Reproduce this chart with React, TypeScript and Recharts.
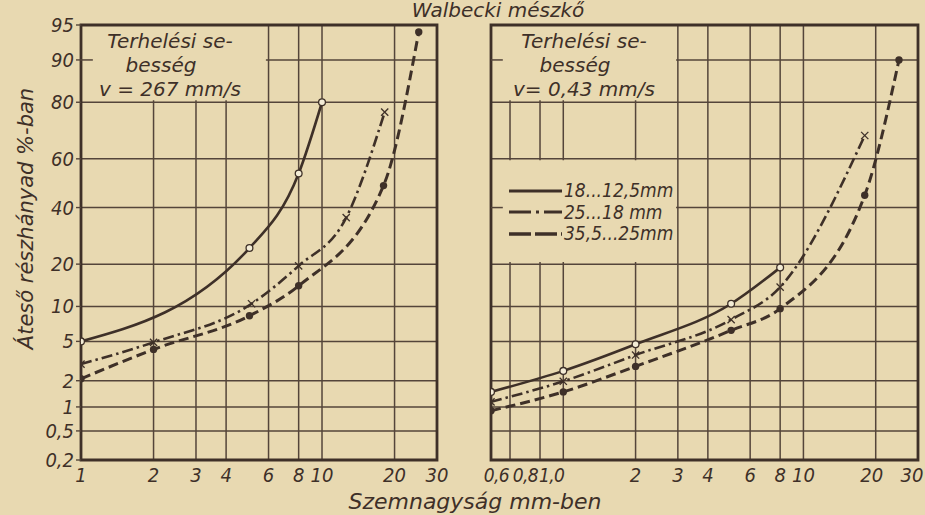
import React from "react";
import {
  LineChart,
  Line,
  XAxis,
  YAxis,
  CartesianGrid,
  ReferenceArea,
  ReferenceLine,
  Legend,
} from "recharts";

// szemnagyság (mm) és áteső részhányad (%) – bal oldal, v = 267 mm/s
const fastSolidSize = [1, 5, 8, 10];
const fastSolidPct = [5, 25, 54, 80];
const fastDashDotSize = [1, 2, 5.1, 8, 12.6, 18.2];
const fastDashDotPct = [3.0, 4.9, 10.5, 19.5, 36, 77];
const fastDashedSize = [1, 2, 5, 8, 18, 25.2];
const fastDashedPct = [2.1, 4.2, 8.4, 14.3, 49, 94.2];

// jobb oldal, v = 0,43 mm/s
const slowSolidSize = [0.5, 1, 2, 5, 8];
const slowSolidPct = [1.5, 2.55, 4.7, 10.5, 19];
const slowDashDotSize = [0.5, 1, 2, 5, 8, 18];
const slowDashDotPct = [1.15, 1.97, 3.7, 7.8, 14, 69];
const slowDashedSize = [0.5, 1, 2, 5, 8, 18, 25];
const slowDashedPct = [0.9, 1.5, 2.84, 6.3, 9.6, 45, 90];

const seriesNames = ["18...12,5mm", "25...18 mm", "35,5...25mm"];
const yTickPct = [0.2, 0.5, 1, 2, 5, 10, 20, 40, 60, 80, 90, 95];
const yTickText = ["0,2", "0,5", "1", "2", "5", "10", "20", "40", "60", "80", "90", "95"];
const leftTicks = [1, 2, 3, 4, 6, 8, 10, 20, 30];
const rightTicks = [0.5, 0.6, 0.8, 1, 2, 3, 4, 6, 8, 10, 20, 30];
const rightTickText = ["", "0,6", "0,8", "1,0", "2", "3", "4", "6", "8", "10", "20", "30"];

const PAPER = "#e8d9b1";
const INK = "#3e3028";
const GRID = "#54453a";
const FONT = '"DejaVu Sans Condensed", "Liberation Sans Narrow", "DejaVu Sans", sans-serif';
const FONT_WIDE = '"DejaVu Sans", sans-serif';

// inverse normal CDF (Acklam) -> valószínűségi skála
function probit(pct: number) {
  const p = pct / 100;
  const a = [-39.69683028665376, 220.9460984245205, -275.9285104469687, 138.357751867269, -30.66479806614716, 2.506628277459239];
  const b = [-54.47609879822406, 161.5858368580409, -155.6989798598866, 66.80131188771972, -13.28068155288572];
  const c = [-0.007784894002430293, -0.3223964580411365, -2.400758277161838, -2.549732539343734, 4.374664141464968, 2.938163982698783];
  const d = [0.007784695709041462, 0.3224671290700398, 2.445134137142996, 3.754408661907416];
  const tail = (q: number) =>
    (((((c[0] * q + c[1]) * q + c[2]) * q + c[3]) * q + c[4]) * q + c[5]) /
    ((((d[0] * q + d[1]) * q + d[2]) * q + d[3]) * q + 1);
  if (p < 0.02425) return tail(Math.sqrt(-2 * Math.log(p)));
  if (p > 1 - 0.02425) return -tail(Math.sqrt(-2 * Math.log(1 - p)));
  const q = p - 0.5;
  const r = q * q;
  return (
    ((((((a[0] * r + a[1]) * r + a[2]) * r + a[3]) * r + a[4]) * r + a[5]) * q) /
    (((((b[0] * r + b[1]) * r + b[2]) * r + b[3]) * r + b[4]) * r + 1)
  );
}

const toPoints = (sizes: number[], pct: number[]) =>
  sizes.map((x, i) => ({ x, z: probit(pct[i]) }));

const yTicks = yTickPct.map(probit);
const Z_MIN = probit(0.2);
const Z_MAX = probit(95);

const lineStyles = [
  { strokeDasharray: undefined as string | undefined, strokeWidth: 2.6, legendDash: undefined as string | undefined },
  { strokeDasharray: "11 4 2.5 4", strokeWidth: 2.6, legendDash: "22 5 3 5" },
  { strokeDasharray: "10 5", strokeWidth: 3, legendDash: "22 4" },
];

function OpenDot(props: any) {
  const { cx, cy, index } = props;
  return <circle key={`o${index}`} cx={cx} cy={cy} r={3.4} fill="#f3ecd6" stroke={INK} strokeWidth={1.3} />;
}

function CrossDot(props: any) {
  const { cx, cy, index } = props;
  const s = 3.6;
  return (
    <g key={`x${index}`} stroke={INK} strokeWidth={1.3}>
      <line x1={cx - s} y1={cy - s} x2={cx + s} y2={cy + s} />
      <line x1={cx - s} y1={cy + s} x2={cx + s} y2={cy - s} />
    </g>
  );
}

function FilledDot(props: any) {
  const { cx, cy, index } = props;
  return <circle key={`f${index}`} cx={cx} cy={cy} r={3.7} fill={INK} />;
}

const dots = [OpenDot, CrossDot, FilledDot];

function YTick({ x, y, payload }: any) {
  const i = yTicks.findIndex((t) => Math.abs(t - payload.value) < 1e-6);
  return (
    <text x={x} y={y} dy={7} textAnchor="end" fill={INK} fontSize={20} fontStyle="italic" fontFamily={FONT}>
      {yTickText[i]}
    </text>
  );
}

function LeftXTick({ x, y, payload }: any) {
  return (
    <text x={x} y={y} dy={14} textAnchor="middle" fill={INK} fontSize={20} fontStyle="italic" fontFamily={FONT}>
      {payload.value}
    </text>
  );
}

const fracShift: Record<string, number> = { "0,6": -1, "0,8": -2, "1,0": 1 };

function RightXTick({ x, y, payload }: any) {
  const i = rightTicks.indexOf(payload.value);
  const label = rightTickText[i];
  const frac = label in fracShift;
  const dx = label === "30" ? -5 : label === "20" ? -4 : 0;
  return (
    <text
      x={frac ? x + fracShift[label] : x + dx}
      y={y}
      dy={14}
      textAnchor={frac ? "end" : "middle"}
      fill={INK}
      fontSize={frac ? 19 : 20}
      letterSpacing={frac ? -0.6 : 0}
      fontStyle="italic"
      fontFamily={FONT}
    >
      {label}
    </text>
  );
}

function renderLegend() {
  return (
    <div style={{ fontFamily: FONT, fontStyle: "italic", fontSize: 19, color: INK, lineHeight: "21.5px" }}>
      {seriesNames.map((name, i) => (
        <div key={name} style={{ display: "flex", alignItems: "center" }}>
          <svg width={56} height={12}>
            <line
              x1={1}
              y1={6}
              x2={54}
              y2={6}
              stroke={INK}
              strokeWidth={lineStyles[i].strokeWidth + 0.3}
              strokeDasharray={lineStyles[i].legendDash}
            />
          </svg>
          <span>{name}</span>
        </div>
      ))}
    </div>
  );
}

function boxText(left: number, lines: string[]) {
  return (
    <div
      style={{
        position: "absolute",
        left,
        top: 29,
        width: 180,
        textAlign: "center",
        fontFamily: FONT_WIDE,
        fontStyle: "italic",
        fontSize: 20,
        lineHeight: "24px",
        color: INK,
      }}
    >
      {lines.map((t, i) => (
        <div key={t} style={{ paddingRight: i === 1 ? 18 : 0 }}>
          {t}
        </div>
      ))}
    </div>
  );
}

export default function App() {
  const fast = [
    toPoints(fastSolidSize, fastSolidPct),
    toPoints(fastDashDotSize, fastDashDotPct),
    toPoints(fastDashedSize, fastDashedPct),
  ];
  const slow = [
    toPoints(slowSolidSize, slowSolidPct),
    toPoints(slowDashDotSize, slowDashDotPct),
    toPoints(slowDashedSize, slowDashedPct),
  ];
  const z = (p: number) => probit(p);

  return (
    <div style={{ position: "absolute", left: 0, top: 0, width: 925, height: 515, background: PAPER, overflow: "hidden" }}>
      <div style={{ position: "absolute", left: 0, top: 0 }}>
        <LineChart width={470} height={515} margin={{ top: 25, right: 33, bottom: 25, left: 0 }}>
          <CartesianGrid stroke={GRID} strokeWidth={1.5} />
          <XAxis
            type="number"
            dataKey="x"
            scale="log"
            domain={[1, 30]}
            ticks={leftTicks}
            allowDataOverflow
            axisLine={false}
            tickLine={false}
            height={30}
            tick={<LeftXTick />}
          />
          <YAxis
            type="number"
            dataKey="z"
            domain={[Z_MIN, Z_MAX]}
            ticks={yTicks}
            allowDataOverflow
            width={81}
            axisLine={false}
            tickLine={{ stroke: GRID, strokeWidth: 1.4 }}
            tickSize={5}
            tick={<YTick />}
            label={{
              value: "Áteső részhányad %-ban",
              angle: -90,
              position: "insideLeft",
              dx: 21,
              dy: -24,
              style: { fill: INK, fontSize: 21, fontStyle: "italic", fontFamily: FONT_WIDE, textAnchor: "middle" },
            }}
          />
          <ReferenceArea x1={1} x2={5.85} y1={z(80.6)} y2={Z_MAX} fill={PAPER} fillOpacity={1} stroke="none" />
          <ReferenceLine segment={[{ x: 1, y: z(90) }, { x: 1.12, y: z(90) }]} stroke={GRID} strokeWidth={1.5} />
          <ReferenceArea x1={1} x2={30} y1={Z_MIN} y2={Z_MAX} fill="none" stroke={INK} strokeWidth={2.8} />
          {fast.map((pts, i) => (
            <Line
              key={seriesNames[i]}
              data={pts}
              dataKey="z"
              name={seriesNames[i]}
              type="monotone"
              stroke={INK}
              strokeWidth={lineStyles[i].strokeWidth}
              strokeDasharray={lineStyles[i].strokeDasharray}
              dot={dots[i]}
              activeDot={false}
              isAnimationActive={false}
            />
          ))}
        </LineChart>
      </div>

      <div style={{ position: "absolute", left: 455, top: 0 }}>
        <LineChart width={470} height={515} margin={{ top: 25, right: 7, bottom: 25, left: 36 }}>
          <CartesianGrid stroke={GRID} strokeWidth={1.5} />
          <XAxis
            type="number"
            dataKey="x"
            scale="log"
            domain={[0.5, 30]}
            ticks={rightTicks}
            allowDataOverflow
            axisLine={false}
            tickLine={false}
            height={30}
            tick={<RightXTick />}
          />
          <YAxis type="number" dataKey="z" domain={[Z_MIN, Z_MAX]} ticks={yTicks} allowDataOverflow hide />
          <ReferenceArea x1={0.5} x2={2.95} y1={z(80.6)} y2={Z_MAX} fill={PAPER} fillOpacity={1} stroke="none" />
          <ReferenceArea x1={0.5} x2={2.95} y1={z(20.6)} y2={z(59.4)} fill={PAPER} fillOpacity={1} stroke="none" />
          <ReferenceLine segment={[{ x: 0.5, y: z(90) }, { x: 0.56, y: z(90) }]} stroke={GRID} strokeWidth={1.5} />
          <ReferenceLine segment={[{ x: 0.5, y: z(40) }, { x: 0.56, y: z(40) }]} stroke={GRID} strokeWidth={1.5} />
          <ReferenceArea x1={0.5} x2={30} y1={Z_MIN} y2={Z_MAX} fill="none" stroke={INK} strokeWidth={2.8} />
          {slow.map((pts, i) => (
            <Line
              key={seriesNames[i]}
              data={pts}
              dataKey="z"
              name={seriesNames[i]}
              type="monotone"
              stroke={INK}
              strokeWidth={lineStyles[i].strokeWidth}
              strokeDasharray={lineStyles[i].strokeDasharray}
              dot={dots[i]}
              activeDot={false}
              isAnimationActive={false}
            />
          ))}
          <Legend
            layout="vertical"
            align="center"
            verticalAlign="middle"
            content={renderLegend}
            wrapperStyle={{ left: 53, top: 180, width: 180 }}
          />
        </LineChart>
      </div>

      {boxText(80, ["Terhelési se-", "besség", "v = 267 mm/s"])}
      {boxText(494, ["Terhelési se-", "besség", "v= 0,43 mm/s"])}

      <div
        style={{
          position: "absolute",
          left: 298,
          top: 0,
          width: 400,
          textAlign: "center",
          fontFamily: FONT_WIDE,
          fontStyle: "italic",
          fontSize: 20,
          lineHeight: "21px",
          color: INK,
        }}
      >
        Walbecki mészkő
      </div>
      <div
        style={{
          position: "absolute",
          left: 275,
          top: 489,
          width: 400,
          textAlign: "center",
          fontFamily: FONT_WIDE,
          fontStyle: "italic",
          fontSize: 22,
          color: INK,
        }}
      >
        Szemnagyság mm-ben
      </div>
    </div>
  );
}
